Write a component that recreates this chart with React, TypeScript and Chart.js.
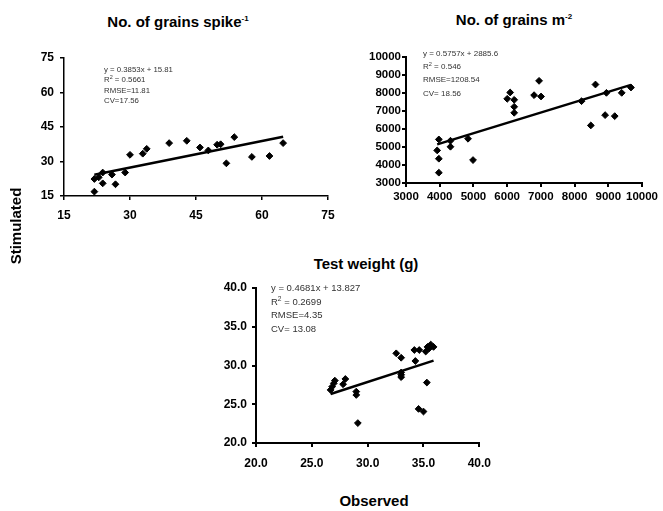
import React, { useEffect, useRef } from "react";
import { Chart, registerables } from "chart.js";

Chart.register(...registerables);

const FONT = '"Liberation Sans", Arial, Helvetica, sans-serif';

// ---- Panel 1: No. of grains spike-1 ----
const obs1 = [21.9, 21.9, 22.9, 23.8, 23.8, 25.9, 26.7, 28.9, 30.0, 32.9, 33.8, 38.9, 42.9, 45.9, 47.8, 49.8, 50.6, 51.9, 53.7, 57.7, 61.7, 64.8];
const sim1 = [22.4, 16.9, 23.1, 25.2, 20.5, 24.3, 20.1, 25.2, 32.9, 33.4, 35.5, 38.0, 39.0, 36.1, 34.8, 37.3, 37.5, 29.2, 40.6, 32.0, 32.4, 38.0];
const fit1 = { slope: 0.3853, intercept: 15.81 };
const axis1 = { min: 15, max: 75, step: 15 };

// ---- Panel 2: No. of grains m-2 ----
const obs2 = [3974, 3925, 3974, 3974, 4319, 4319, 4840, 4988, 6002, 6090, 6209, 6209, 6209, 6799, 6947, 7006, 8207, 8482, 8620, 8906, 8945, 9191, 9398, 9673];
const sim2 = [5421, 4811, 4349, 3573, 5348, 5015, 5458, 4275, 7677, 8028, 7621, 7233, 6900, 7880, 8675, 7806, 7547, 6198, 8471, 6771, 8009, 6715, 8009, 8305];
const fit2 = { slope: 0.5757, intercept: 2885.6 };
const axis2 = { min: 3000, max: 10000, step: 1000 };

// ---- Panel 3: Test weight (g) ----
const obs3 = [26.68, 26.82, 26.97, 27.06, 27.8, 28.0, 28.98, 28.98, 29.12, 32.56, 33.0, 33.0, 33.0, 33.0, 34.18, 34.62, 34.27, 35.3, 34.56, 35.0, 35.2, 35.36, 35.65, 35.9, 35.5];
const sim3 = [26.85, 27.27, 27.7, 28.05, 27.58, 28.26, 26.63, 26.2, 22.57, 31.57, 31.0, 29.1, 28.8, 28.5, 32.0, 32.0, 30.58, 27.8, 24.4, 24.06, 31.8, 32.4, 32.7, 32.4, 32.2];
const fit3 = { slope: 0.4681, intercept: 13.827 };
const axis3 = { min: 20, max: 40, step: 5 };

type Seg = { t: string; sup?: boolean };

const stats1: Seg[][] = [
  [{ t: "y = 0.3853x + 15.81" }],
  [{ t: "R" }, { t: "2", sup: true }, { t: " = 0.5661" }],
  [{ t: "RMSE=11.81" }],
  [{ t: "CV=17.56" }],
];
const stats2: Seg[][] = [
  [{ t: "y = 0.5757x + 2885.6" }],
  [{ t: "R" }, { t: "2", sup: true }, { t: " = 0.546" }],
  [{ t: "RMSE=1208.54" }],
  [{ t: "CV= 18.56" }],
];
const stats3: Seg[][] = [
  [{ t: "y = 0.4681x + 13.827" }],
  [{ t: "R" }, { t: "2", sup: true }, { t: " = 0.2699" }],
  [{ t: "RMSE=4.35" }],
  [{ t: "CV= 13.08" }],
];

type PanelProps = {
  left: number; top: number; width: number; height: number;
  area: { l: number; t: number; r: number; b: number };
  obs: number[]; sim: number[];
  fit: { slope: number; intercept: number };
  axis: { min: number; max: number; step: number };
  decimals: number;
  tickFont: number;
  axisWidth: number;
  xPad: number; yPad: number;
  stats: Seg[][];
  statsPos: { dx: number; dy: number; gap: number; size: number };
};

function Panel(p: PanelProps) {
  const ref = useRef<HTMLCanvasElement | null>(null);
  useEffect(() => {
    if (!ref.current) return;
    const pts = p.obs.map((x, i) => ({ x, y: p.sim[i] }));
    const x0 = Math.min(...p.obs);
    const x1 = Math.max(...p.obs);
    const line = [
      { x: x0, y: p.fit.slope * x0 + p.fit.intercept },
      { x: x1, y: p.fit.slope * x1 + p.fit.intercept },
    ];
    const statsPlugin = {
      id: "stats",
      afterDraw(chart: any) {
        const ctx = chart.ctx;
        const a = chart.chartArea;
        const s = p.statsPos;
        ctx.save();
        ctx.fillStyle = "#333";
        ctx.textBaseline = "middle";
        ctx.textAlign = "left";
        p.stats.forEach((segs, i) => {
          let x = a.left + s.dx;
          const y = a.top + s.dy + i * s.gap;
          segs.forEach((sg) => {
            const fs = sg.sup ? s.size * 0.7 : s.size;
            ctx.font = `${fs}px ${FONT}`;
            ctx.fillText(sg.t, x, sg.sup ? y - s.size * 0.35 : y);
            x += ctx.measureText(sg.t).width;
          });
        });
        ctx.restore();
      },
    };
    const tickCb = (v: any) => Number(v).toFixed(p.decimals);
    const scaleCommon = (pad: number) => ({
      type: "linear" as const,
      min: p.axis.min,
      max: p.axis.max,
      ticks: {
        stepSize: p.axis.step,
        color: "#000",
        font: { family: FONT, size: p.tickFont, weight: "bold" as const },
        padding: pad,
        callback: tickCb,
        autoSkip: false,
        maxRotation: 0,
      },
      grid: {
        display: true,
        drawOnChartArea: false,
        drawTicks: true,
        tickLength: 4,
        color: "#000",
        lineWidth: p.axisWidth,
      },
      border: { display: true, color: "#000", width: p.axisWidth },
    });
    const chart = new Chart(ref.current, {
      type: "scatter",
      data: {
        datasets: [
          {
            data: pts,
            pointStyle: "rectRot",
            pointRadius: 3.4,
            pointBorderWidth: 1,
            backgroundColor: "#000",
            borderColor: "#000",
          },
          {
            type: "line",
            data: line,
            showLine: true,
            borderColor: "#000",
            borderWidth: 2.5,
            pointRadius: 0,
            fill: false,
          } as any,
        ],
      },
      options: {
        responsive: false,
        animation: false,
        devicePixelRatio: 1,
        layout: {
          padding: { left: 0, top: p.area.t, right: p.width - p.area.r, bottom: 0 },
        },
        plugins: { legend: { display: false }, tooltip: { enabled: false }, title: { display: false } },
        scales: {
          x: {
            ...scaleCommon(p.xPad),
            position: "bottom",
            afterFit: (s: any) => { s.height = p.height - p.area.b; },
          },
          y: {
            ...scaleCommon(p.yPad),
            position: "left",
            afterFit: (s: any) => { s.width = p.area.l; },
          },
        },
      } as any,
      plugins: [statsPlugin],
    });
    return () => chart.destroy();
  }, []);
  return (
    <canvas
      ref={ref}
      width={p.width}
      height={p.height}
      style={{ position: "absolute", left: p.left, top: p.top, width: p.width, height: p.height }}
    />
  );
}

function Title(props: { cx: number; cy: number; text: string; sup?: string }) {
  return (
    <div
      style={{
        position: "absolute",
        left: props.cx - 150,
        top: props.cy - 10,
        width: 300,
        height: 20,
        lineHeight: "20px",
        textAlign: "center",
        font: `bold 15px ${FONT}`,
        color: "#000",
        whiteSpace: "nowrap",
      }}
    >
      {props.text}
      {props.sup ? (
        <span style={{ fontSize: 8, position: "relative", top: -6, lineHeight: 0 }}>{props.sup}</span>
      ) : null}
    </div>
  );
}

export default function App() {
  return (
    <div style={{ position: "absolute", left: 0, top: 0, width: 663, height: 511, background: "#fff", overflow: "hidden" }}>
      <Title cx={178} cy={23} text="No. of grains spike" sup="-1" />
      <Title cx={514} cy={21} text="No. of grains m" sup="-2" />
      <Title cx={366} cy={265} text="Test weight (g)" />
      <Panel
        left={0} top={0} width={345} height={225}
        area={{ l: 64, t: 58, r: 328, b: 196 }}
        obs={obs1} sim={sim1} fit={fit1} axis={axis1} decimals={0}
        tickFont={12} axisWidth={1.5} xPad={8} yPad={6}
        stats={stats1} statsPos={{ dx: 40, dy: 12, gap: 10.3, size: 7.8 }}
      />
      <Panel
        left={345} top={0} width={318} height={225}
        area={{ l: 61, t: 57, r: 297, b: 183 }}
        obs={obs2} sim={sim2} fit={fit2} axis={axis2} decimals={0}
        tickFont={11.5} axisWidth={2} xPad={3} yPad={1}
        stats={stats2} statsPos={{ dx: 17, dy: -3.5, gap: 13.3, size: 8 }}
      />
      <Panel
        left={180} top={230} width={320} height={240}
        area={{ l: 76, t: 58, r: 303, b: 213 }}
        obs={obs3} sim={sim3} fit={fit3} axis={axis3} decimals={1}
        tickFont={12} axisWidth={2} xPad={9} yPad={5}
        stats={stats3} statsPos={{ dx: 15, dy: 0.5, gap: 13.6, size: 9.5 }}
      />
      <div
        style={{
          position: "absolute",
          left: 17 - 60,
          top: 226 - 10,
          width: 120,
          height: 20,
          lineHeight: "20px",
          textAlign: "center",
          font: `bold 15px ${FONT}`,
          transform: "rotate(-90deg)",
          color: "#000",
        }}
      >
        Stimulated
      </div>
      <div
        style={{
          position: "absolute",
          left: 374 - 60,
          top: 502 - 10,
          width: 120,
          height: 20,
          lineHeight: "20px",
          textAlign: "center",
          font: `bold 15px ${FONT}`,
          color: "#000",
        }}
      >
        Observed
      </div>
    </div>
  );
}
